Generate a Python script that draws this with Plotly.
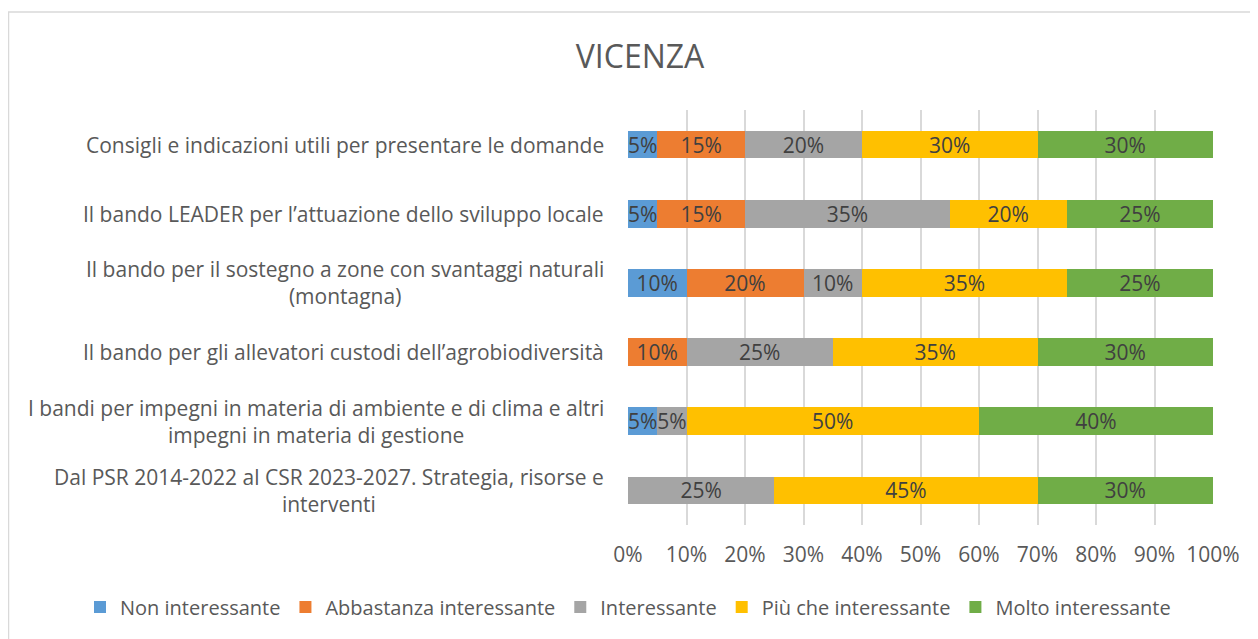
import plotly.graph_objects as go

categories = [
    "Consigli e indicazioni utili per presentare le domande",
    "Il bando LEADER per l’attuazione dello sviluppo locale",
    "Il bando per il sostegno a zone con svantaggi naturali<br>(montagna)",
    "Il bando per gli allevatori custodi dell’agrobiodiversità",
    "I bandi per impegni in materia di ambiente e di clima e altri<br>impegni in materia di gestione",
    "Dal PSR 2014-2022 al CSR 2023-2027. Strategia, risorse e<br>interventi",
]
series_names = ["Non interessante", "Abbastanza interessante", "Interessante",
                "Più che interessante", "Molto interessante"]
non_interessante = [5, 5, 10, 0, 5, 0]
abbastanza = [15, 15, 20, 10, 0, 0]
interessante = [20, 35, 10, 25, 5, 25]
piu_che = [30, 20, 35, 35, 50, 45]
molto = [30, 25, 25, 30, 40, 30]
tick_vals = [0, 10, 20, 30, 40, 50, 60, 70, 80, 90, 100]
tick_text = ["0%", "10%", "20%", "30%", "40%", "50%", "60%", "70%", "80%", "90%", "100%"]

series_values = [non_interessante, abbastanza, interessante, piu_che, molto]
colors = ["#5B9BD5", "#ED7D31", "#A5A5A5", "#FFC000", "#70AD47"]

FONT = "Open Sans"
FS = 21
# page body has an 8px margin: figure pixel = reference pixel - 8
W, H = 1250, 631
L, R, T, B = 620, 45, 102, 114
pw, ph = W - L - R, H - T - B

fig = go.Figure()
for name, vals, col in zip(series_names, series_values, colors):
    fig.add_trace(go.Bar(
        y=categories, x=vals, name=name, orientation="h",
        marker=dict(color=col, line=dict(width=0)),
        text=[f"{v}%" if v else "" for v in vals],
        textposition="inside", insidetextanchor="middle",
        constraintext="none",
        textfont=dict(family=FONT, size=FS, color="#404040"),
        hoverinfo="x+name",
    ))

annotations = []
for c in categories:
    annotations.append(dict(
        x=-22 / pw, xref="paper", y=c, yref="y", text=c,
        xanchor="right", yanchor="middle", align="center", showarrow=False,
        font=dict(family=FONT, size=FS, color="#595959"),
    ))

fig.update_layout(
    width=W, height=H,
    barmode="stack", bargap=0.6,
    paper_bgcolor="white", plot_bgcolor="white",
    margin=dict(l=L, r=R, t=T, b=B, autoexpand=False),
    title=dict(text="VICENZA", x=632 / W, xref="container", xanchor="center",
               y=1 - 49 / H, yref="container", yanchor="middle",
               font=dict(family=FONT, size=32, color="#595959")),
    xaxis=dict(range=[0, 100], tickmode="array", tickvals=tick_vals, ticktext=tick_text,
               showgrid=True, gridcolor="#D9D9D9", gridwidth=1.5,
               zeroline=False, showline=False,
               ticks="", ticklabelstandoff=15,
               tickfont=dict(family=FONT, size=FS, color="#595959")),
    yaxis=dict(autorange="reversed", showticklabels=False, showgrid=False,
               zeroline=False, showline=False),
    legend=dict(orientation="h", x=(72 - L) / pw, xanchor="left",
                y=-(599 - (H - B)) / ph, yanchor="middle",
                font=dict(family=FONT, size=20, color="#595959"),
                traceorder="normal", itemclick=False, itemwidth=30),
    annotations=annotations,
    shapes=[dict(type="rect", xref="paper", yref="paper",
                 x0=(0.5 - L) / pw, x1=(1260 - L) / pw,
                 y0=-(650 - (H - B)) / ph, y1=((H - B) - 4) / ph,
                 line=dict(color="#D9D9D9", width=1.5), fillcolor="rgba(0,0,0,0)",
                 layer="below")],
)
fig.write_html("out.html")
